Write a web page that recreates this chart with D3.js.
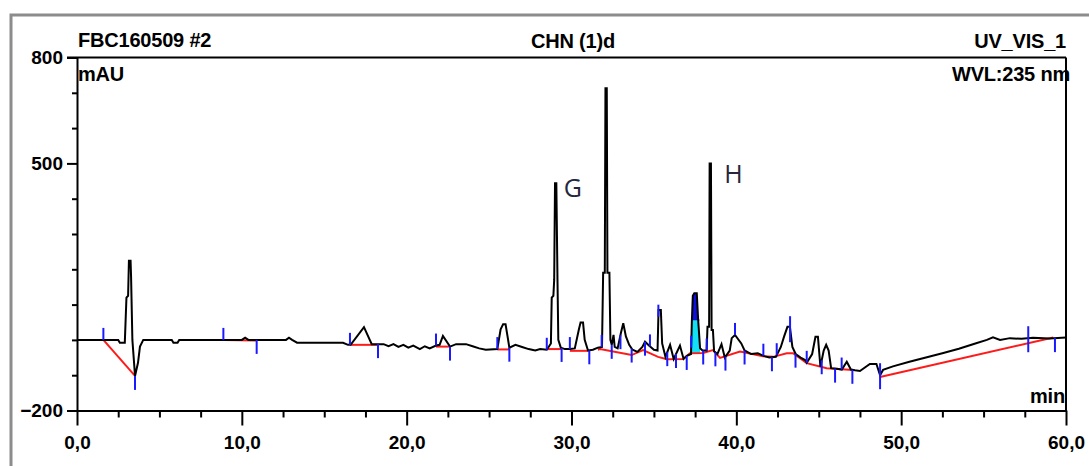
<!DOCTYPE html>
<html>
<head>
<meta charset="utf-8">
<script src="https://cdn.jsdelivr.net/npm/d3@7"></script>
<style>
  body { margin: 0; background: #fff; }
  svg text { font-family: "Liberation Sans", Arial, sans-serif; font-weight: bold; }
</style>
</head>
<body>
<div id="chart"></div>
<script>

// chromatogram trace: retention time (min) and absorbance (mAU)
var times = [0, 2.5, 2.6, 2.9, 3.0, 3.1, 3.15, 3.25, 3.28, 3.36, 3.52, 3.7, 3.82, 4.02,
  5.75, 5.85, 6.1, 6.2, 10.0, 10.2, 10.4, 12.68, 12.86, 13.05, 13.35, 16.14, 16.44, 16.6,
  17.41, 17.88, 18.3, 18.6, 18.9, 19.2, 19.5, 19.8, 20.1, 20.4, 20.8, 21.1, 21.4, 21.78,
  22.0, 22.2, 22.63, 23.0, 23.6, 24.0, 24.4, 24.8, 25.5, 25.7, 25.85, 26.0, 26.12, 26.23,
  26.6, 27.0, 27.4, 27.8, 28.1, 28.5, 28.75, 28.8, 28.9, 28.95, 29.0, 29.08, 29.15, 29.2,
  29.35, 29.6, 29.9, 30.2, 30.45, 30.55, 30.7, 30.8, 31.0, 31.3, 31.6, 31.85, 31.92, 32.02,
  32.06, 32.14, 32.18, 32.3, 32.36, 32.44, 32.55, 32.62, 32.8, 33.0, 33.14, 33.3, 33.5,
  33.7, 34.0, 34.3, 34.46, 34.7, 35.0, 35.22, 35.28, 35.42, 35.5, 35.7, 35.98, 36.2, 36.58,
  36.8, 37.0, 37.25, 37.3, 37.36, 37.45, 37.6, 37.68, 37.8, 37.95, 38.2, 38.25, 38.35,
  38.38, 38.46, 38.5, 38.58, 38.65, 38.85, 39.1, 39.3, 39.6, 39.72, 39.92, 40.3, 40.5,
  40.9, 41.3, 41.7, 42.0, 42.4, 42.7, 42.9, 43.1, 43.25, 43.4, 43.6, 43.9, 44.17, 44.27,
  44.6, 44.8, 44.95, 45.1, 45.3, 45.45, 45.6, 45.75, 46.1, 46.4, 46.7, 46.95, 47.2, 47.5,
  48.1, 48.5, 48.72, 48.9, 49.5, 50.5, 51.5, 52.5, 53.5, 54.5, 55.2, 55.57, 56.0, 56.6,
  57.3, 58.0, 59.0, 60.0];
var signal = [0, 0, -8, -8, 120, 125, 224, 224, 180, 0, -102, -65, -19, 0,
  0, -8, -8, 0, 0, 6, 0, 0, 6, 0, -8, -8, -14, -14,
  36, -12, -12, -12, -18, -12, -20, -14, -22, -16, -26, -18, -24, -16,
  -14, 11, -19, -12, -12, -18, -24, -28, -26, 30, 44, 44, 10, -22,
  -14, -20, -26, -30, -26, -28, -10, 120, 125, 170, 444, 444, 170, 0,
  -22, -26, -26, -24, 30, 49, 49, 0, -30, -28, -22, -20, 190, 190,
  713, 713, 190, 190, 0, -14, 14, -20, -24, 20, 47, 10, -14,
  -28, -34, -20, -5, -16, -28, -30, 85, 85, -10, -48, -14, -54, -16,
  -54, -45, -40, 50, 125, 132, 132, 60, -24, -30, -30, 37, 37,
  500, 500, 28, 28, -32, -40, -12, -50, -30, 5, 14, -10, -30,
  -40, -38, -46, -50, -48, -20, 10, 37, 37, -20, -40, -50, -57, -65,
  -40, 9, 9, -76, -30, -14, -30, -80, -82, -84, -62, -84, -86, -88,
  -68, -68, -100, -85, -75, -62, -50, -38, -25, -10, 0, 7, 0, 5,
  3, 6, 4, 7];

// integration baselines (each entry one segment: times / values)
var baselineTimes = [
  [1.6, 3.52], [8.88, 10.9], [16.56, 18.26], [21.78, 22.63], [25.5, 26.23],
  [28.5, 29.4], [29.9, 31.08],
  [31.6, 31.73, 33.65, 34.34, 35.25, 35.78, 36.77, 37.19, 37.98, 38.58, 39.01, 40.22,
   41.62, 42.23, 43.06, 43.44, 44.27, 45.48, 47.08],
  [48.72, 59.23]
];
var baselineValues = [
  [0, -102], [0, -2], [-14, -14], [-19, -19], [-27, -27],
  [-26, -26], [-31, -31],
  [-28, -26, -43, -29, -48, -55, -54, -38, -37, -29, -51, -33,
   -46, -48, -38, -38, -66, -80, -85],
  [-105, 7]
];

// peak delimiters: time and direction (1 = start, -1 = end, 0 = both)
var markerTimes = [1.6, 3.52, 8.88, 10.9, 16.56, 18.26, 21.78, 22.63, 25.5, 26.23, 28.5, 29.4,
  29.9, 31.08, 31.83, 32.44, 32.97, 33.65, 34.46, 34.76, 35.27, 35.81, 36.34, 36.99, 37.26,
  37.99, 38.2, 38.73, 39.34, 39.92, 40.5, 41.64, 42.16, 42.45, 43.26, 43.59, 44.27, 45.18,
  45.99, 46.39, 47.04, 48.72, 57.71, 59.33];
var markerDirs = [1, -1, 1, -1, 1, -1, 1, -1, 1, -1, 1, -1,
  1, -1, 1, -1, -1, -1, -1, 1, 1, -1, -1, -1, 1,
  -1, 1, -1, -1, 1, -1, 1, -1, 1, 0, -1, 1, -1,
  -1, 1, -1, 0, 0, -1];

// shaded peak
var shadedRange = [37.26, 37.8];

// named peaks
var peakNames = ["G", "H"];
var peakTimes = [29.04, 38.42];
var peakValues = [444, 500];

// axis ticks
var xMajor = [0, 10, 20, 30, 40, 50, 60];
var yMajor = [-200, 500, 800];

var W = 1089, H = 466;
var svg = d3.select("#chart")
  .append("svg")
    .attr("width", W)
    .attr("height", H);

// window frame
svg.append("rect")
  .attr("x", 11).attr("y", 15)
  .attr("width", 1200).attr("height", 600)
  .attr("fill", "#fff")
  .attr("stroke", "#8c8c8c")
  .attr("stroke-width", 3);

var x = d3.scaleLinear().domain([0, 60]).range([77, 1066]);
var y = d3.scaleLinear().domain([-200, 800]).range([410.5, 57.5]);

var pts = times.map(function(t, i) { return {t: t, v: signal[i]}; });
var valueAt = function(t) {
  var i = d3.bisector(function(d) { return d.t; }).left(pts, t);
  if (i <= 0) return pts[0].v;
  if (i >= pts.length) return pts[pts.length - 1].v;
  var a = pts[i - 1], b = pts[i];
  return a.v + (b.v - a.v) * (t - a.t) / (b.t - a.t);
};

// shaded peak area
var shaded = pts.filter(function(d) { return d.t >= shadedRange[0] && d.t <= shadedRange[1]; });
svg.append("path")
  .datum(shaded)
  .attr("fill", "#12e0f5")
  .attr("d", d3.area()
    .x(function(d) { return x(d.t); })
    .y0(y(-40))
    .y1(function(d) { return y(d.v); }));
svg.append("path")
  .datum(shaded)
  .attr("fill", "#1010e0")
  .attr("d", d3.area()
    .x(function(d) { return x(d.t); })
    .y0(y(56))
    .y1(function(d) { return y(Math.max(56, d.v)); }));

// baselines
baselineTimes.forEach(function(ts, k) {
  svg.append("path")
    .datum(ts.map(function(t, i) { return [t, baselineValues[k][i]]; }))
    .attr("fill", "none")
    .attr("stroke", "#ff1a1a")
    .attr("stroke-width", 2)
    .attr("d", d3.line()
      .x(function(d) { return x(d[0]); })
      .y(function(d) { return y(d[1]); }));
});

// trace
svg.append("path")
  .datum(pts)
  .attr("fill", "none")
  .attr("stroke", "#000")
  .attr("stroke-width", 2)
  .attr("stroke-linejoin", "miter")
  .attr("d", d3.line()
    .x(function(d) { return x(d.t); })
    .y(function(d) { return y(d.v); }));

// peak delimiters
svg.selectAll("line.mark")
  .data(markerTimes)
  .enter()
  .append("line")
    .attr("class", "mark")
    .attr("x1", function(t) { return x(t); })
    .attr("x2", function(t) { return x(t); })
    .attr("y1", function(t, i) { var yy = y(valueAt(t)); return markerDirs[i] === -1 ? yy : yy - 12; })
    .attr("y2", function(t, i) { var yy = y(valueAt(t)); return markerDirs[i] === 1 ? yy : yy + 14; })
    .attr("stroke", "#1a1aff")
    .attr("stroke-width", 2);

// peak names
var labelOffset = [[8, 14], [14, 20]];
svg.selectAll("text.peak")
  .data(peakNames)
  .enter()
  .append("text")
    .attr("class", "peak")
    .attr("x", function(d, i) { return x(peakTimes[i]) + labelOffset[i][0]; })
    .attr("y", function(d, i) { return y(peakValues[i]) + labelOffset[i][1]; })
    .style("font-family", "'Open Sans', sans-serif")
    .style("font-weight", "normal")
    .style("font-size", "25px")
    .style("fill", "#26263c")
    .text(function(d) { return d; });

// frame lines (top and right)
svg.append("line")
  .attr("x1", 67).attr("x2", x(60))
  .attr("y1", y(800)).attr("y2", y(800))
  .attr("stroke", "#000").attr("stroke-width", 2);

// X axis
var xMinor = d3.range(0, 60.1, 2.5).filter(function(d) { return d % 10 !== 0; });
svg.append("g")
  .attr("transform", "translate(0," + y(-200) + ")")
  .call(d3.axisBottom(x).tickValues(xMinor).tickSize(7).tickSizeOuter(0).tickFormat(""))
  .call(function(g) { g.select(".domain").remove(); });
var xAxis = svg.append("g")
  .attr("transform", "translate(0," + y(-200) + ")")
  .call(d3.axisBottom(x)
    .tickValues(xMajor)
    .tickSize(15)
    .tickSizeOuter(0)
    .tickPadding(10)
    .tickFormat(function(d) { return d3.format(".1f")(d).replace(".", ","); }));

// Y axis
var yMinor = d3.range(-200, 801, 100).filter(function(d) { return yMajor.indexOf(d) < 0; });
svg.append("g")
  .attr("transform", "translate(" + x(0) + ",0)")
  .call(d3.axisLeft(y).tickValues(yMinor).tickSize(5).tickSizeOuter(0).tickFormat(""))
  .call(function(g) { g.select(".domain").remove(); });
var yAxis = svg.append("g")
  .attr("transform", "translate(" + x(0) + ",0)")
  .call(d3.axisLeft(y).tickValues(yMajor).tickSize(10).tickSizeOuter(0).tickPadding(4));

svg.selectAll(".tick line").attr("stroke", "#000").attr("stroke-width", 2);
svg.selectAll(".domain").attr("stroke", "#000").attr("stroke-width", 2);
svg.selectAll(".tick text")
  .attr("font-family", "'Liberation Sans', Arial, sans-serif")
  .attr("font-size", 19)
  .attr("font-weight", "bold")
  .attr("fill", "#000");

// header and unit labels
var header = [
  {s: "FBC160509 #2", x: 78, y: 47, a: "start"},
  {s: "CHN (1)d", x: 573, y: 48, a: "middle"},
  {s: "UV_VIS_1", x: 1066, y: 48, a: "end"},
  {s: "mAU", x: 78, y: 81, a: "start"},
  {s: "WVL:235 nm", x: 1070, y: 81, a: "end"},
  {s: "min", x: 1065, y: 403, a: "end"}
];
svg.selectAll("text.hdr")
  .data(header)
  .enter()
  .append("text")
    .attr("class", "hdr")
    .attr("x", function(d) { return d.x; })
    .attr("y", function(d) { return d.y; })
    .attr("text-anchor", function(d) { return d.a; })
    .style("font-size", "20px")
    .style("letter-spacing", "-0.2px")
    .text(function(d) { return d.s; });

// right frame line, drawn over the clipped unit label
svg.append("line")
  .attr("x1", x(60)).attr("x2", x(60))
  .attr("y1", y(800)).attr("y2", y(-200) + 1)
  .attr("stroke", "#000").attr("stroke-width", 2);

</script>
</body>
</html>
